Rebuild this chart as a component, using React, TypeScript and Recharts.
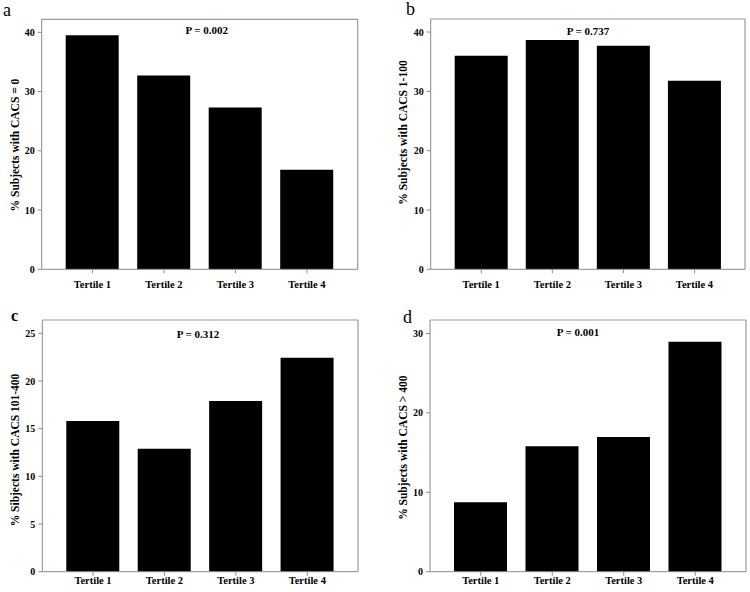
import { Bar, BarChart, CartesianGrid, XAxis, YAxis } from 'recharts';

const tertiles = ['Tertile 1', 'Tertile 2', 'Tertile 3', 'Tertile 4'];

const cacsZero = [39.5, 32.7, 27.3, 16.8];
const cacs1to100 = [36.0, 38.65, 37.7, 31.8];
const cacs101to400 = [15.8, 12.9, 17.9, 22.45];
const cacsOver400 = [8.75, 15.8, 16.95, 28.96];

const ticksAB = [0, 10, 20, 30, 40];
const ticksC = [0, 5, 10, 15, 20, 25];
const ticksD = [0, 10, 20, 30];

const FONT = '"Liberation Serif", "Times New Roman", serif';
const FRAME = '#9a9a9a';
const AXIS = '#8a8a8a';

const rows = (values: number[]) => tertiles.map((name, i) => ({ name, value: values[i] }));

interface PanelProps {
  left: number;
  top: number;
  values: number[];
  ticks: number[];
  max: number;
  margin: { top: number; right: number; bottom: number; left: number };
  xHeight: number;
  xTickMargin: number;
}

function Panel({ left, top, values, ticks, max, margin, xHeight, xTickMargin }: PanelProps) {
  const tickStyle = { fontFamily: FONT, fontWeight: 700, fill: '#000' };
  return (
    <div
      style={{
        position: 'absolute',
        left,
        top,
        width: 375,
        height: 296,
        fontFamily: FONT,
        fontWeight: 700,
      }}
    >
      <BarChart width={375} height={296} data={rows(values)} margin={margin}>
        {/* top and right edges of the plot frame */}
        <CartesianGrid
          stroke={FRAME}
          strokeWidth={1.2}
          horizontalCoordinatesGenerator={({ offset }: any) => [offset.top]}
          verticalCoordinatesGenerator={({ offset }: any) => [offset.left + offset.width]}
        />
        <XAxis
          dataKey="name"
          height={xHeight}
          padding={{ left: 15, right: 15 }}
          tickSize={4}
          tickMargin={xTickMargin}
          stroke={AXIS}
          tick={{ ...tickStyle, fontSize: 10.5 }}
        />
        <YAxis
          width={40}
          domain={[0, max]}
          ticks={ticks}
          tickSize={4}
          tickMargin={3}
          stroke={AXIS}
          tick={{ ...tickStyle, fontSize: 10 }}
        />
        <Bar dataKey="value" fill="#000" barSize={53} isAnimationActive={false} />
      </BarChart>
    </div>
  );
}

const textStyle = { fontFamily: FONT, fontWeight: 700, fontSize: 11, fill: '#000' };

function YLabel({ x, y, text }: { x: number; y: number; text: string }) {
  return (
    <text
      x={x}
      y={y}
      transform={`rotate(-90, ${x}, ${y})`}
      textAnchor="middle"
      dominantBaseline="central"
      style={{ ...textStyle, fontSize: 11.5 }}
    >
      {text}
    </text>
  );
}

export default function App() {
  return (
    <div style={{ position: 'absolute', left: 0, top: 0, width: 750, height: 592, background: '#fff' }}>
      <Panel
        left={0}
        top={0}
        values={cacsZero}
        ticks={ticksAB}
        max={42.2}
        margin={{ top: 19.3, right: 17.3, bottom: 0, left: 1.7 }}
        xHeight={26.7}
        xTickMargin={7}
      />
      <Panel
        left={375}
        top={0}
        values={cacs1to100}
        ticks={ticksAB}
        max={42.2}
        margin={{ top: 19, right: 5, bottom: 0, left: 15.7 }}
        xHeight={26.7}
        xTickMargin={7}
      />
      <Panel
        left={0}
        top={296}
        values={cacs101to400}
        ticks={ticksC}
        max={26.4}
        margin={{ top: 24, right: 17, bottom: 0, left: 2.3 }}
        xHeight={20.3}
        xTickMargin={1}
      />
      <Panel
        left={375}
        top={296}
        values={cacsOver400}
        ticks={ticksD}
        max={31.7}
        margin={{ top: 24, right: 4, bottom: 0, left: 15 }}
        xHeight={20.3}
        xTickMargin={1}
      />
      <svg
        width={750}
        height={592}
        style={{ position: 'absolute', left: 0, top: 0, pointerEvents: 'none' }}
      >
        <text x={3} y={16} style={{ fontFamily: FONT, fontSize: 18 }}>a</text>
        <text x={406} y={15} style={{ fontFamily: FONT, fontSize: 18 }}>b</text>
        <text x={11} y={321} style={{ fontFamily: FONT, fontSize: 16, fontWeight: 700 }}>c</text>
        <text x={403} y={323} style={{ fontFamily: FONT, fontSize: 18 }}>d</text>

        <text x={206.7} y={34} textAnchor="middle" style={textStyle}>P = 0.002</text>
        <text x={588} y={35} textAnchor="middle" style={textStyle}>P = 0.737</text>
        <text x={198} y={337.5} textAnchor="middle" style={textStyle}>P = 0.312</text>
        <text x={578} y={336} textAnchor="middle" style={textStyle}>P = 0.001</text>

        <YLabel x={15} y={145} text="% Subjects with CACS = 0" />
        <YLabel x={403.3} y={132.5} text="% Subjects with CACS 1-100" />
        <YLabel x={14.7} y={450} text="% Sibjects with CACS 101-400" />
        <YLabel x={403.3} y={447.7} text="% Subjects with CACS > 400" />
      </svg>
    </div>
  );
}
